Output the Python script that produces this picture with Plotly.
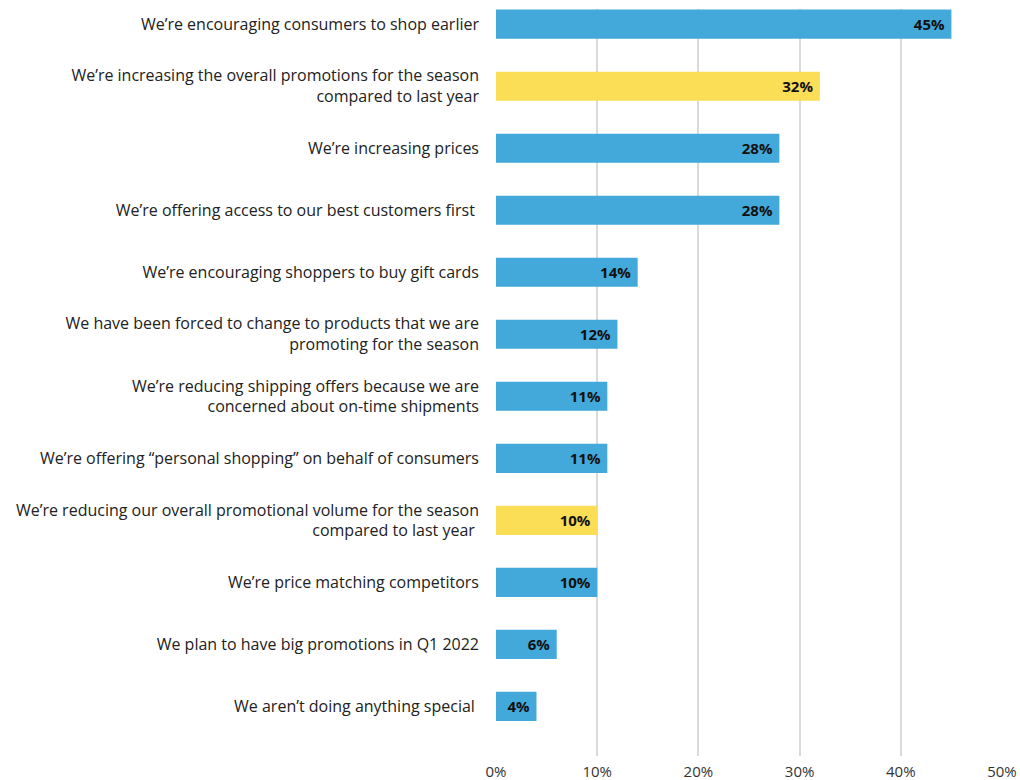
import plotly.graph_objects as go

categories = [
    "We’re encouraging consumers to shop earlier",
    "We’re increasing the overall promotions for the season<br>compared to last year",
    "We’re increasing prices",
    "We’re offering access to our best customers first ",
    "We’re encouraging shoppers to buy gift cards",
    "We have been forced to change to products that we are<br>promoting for the season",
    "We’re reducing shipping offers because we are<br>concerned about on-time shipments",
    "We’re offering “personal shopping” on behalf of consumers",
    "We’re reducing our overall promotional volume for the season<br>compared to last year ",
    "We’re price matching competitors",
    "We plan to have big promotions in Q1 2022",
    "We aren’t doing anything special ",
]
values = [45, 32, 28, 28, 14, 12, 11, 11, 10, 10, 6, 4]
highlight = [False, True, False, False, False, False, False, False, True, False, False, False]

BLUE = "#43A8DA"
YELLOW = "#FCDD56"
bar_colors = [YELLOW if h else BLUE for h in highlight]

x_ticks = [0, 10, 20, 30, 40, 50]
x_tick_text = [f"{t}%" for t in x_ticks]

FONT = "Open Sans"

fig = go.Figure(
    go.Bar(
        x=values,
        y=list(range(len(categories))),
        orientation="h",
        marker=dict(color=bar_colors, line=dict(width=0)),
        width=0.47,
        # trailing non-breaking space keeps the value label off the bar end
        text=[f"{v}%\u00a0" for v in values],
        textposition="inside",
        insidetextanchor="end",
        textfont=dict(family=FONT, size=15, color="#111111", weight="bold"),
        hoverinfo="skip",
    )
)

fig.update_layout(
    width=1020,
    height=780,
    margin=dict(l=496, r=18, t=9, b=24, autoexpand=False),
    paper_bgcolor="white",
    plot_bgcolor="white",
    showlegend=False,
    font=dict(family=FONT, size=16, color="#222222"),
    uniformtext=dict(minsize=8, mode="show"),
)

fig.update_xaxes(
    range=[0, 50],
    tickvals=x_ticks,
    ticktext=x_tick_text,
    automargin=False,
    showgrid=True,
    gridcolor="#DADADA",
    gridwidth=2,
    zeroline=False,
    showline=False,
    ticks="",
    tickfont=dict(family=FONT, size=15, color="#333333"),
    ticklabelstandoff=5,
)

fig.update_yaxes(
    range=[11.8, -0.245],
    tickvals=list(range(len(categories))),
    ticktext=categories,
    automargin=False,
    showgrid=False,
    zeroline=False,
    showline=False,
    ticks="",
    ticklabelstandoff=16,
    tickfont=dict(family=FONT, size=16, color="#222222"),
)

fig.write_html("out.html")
